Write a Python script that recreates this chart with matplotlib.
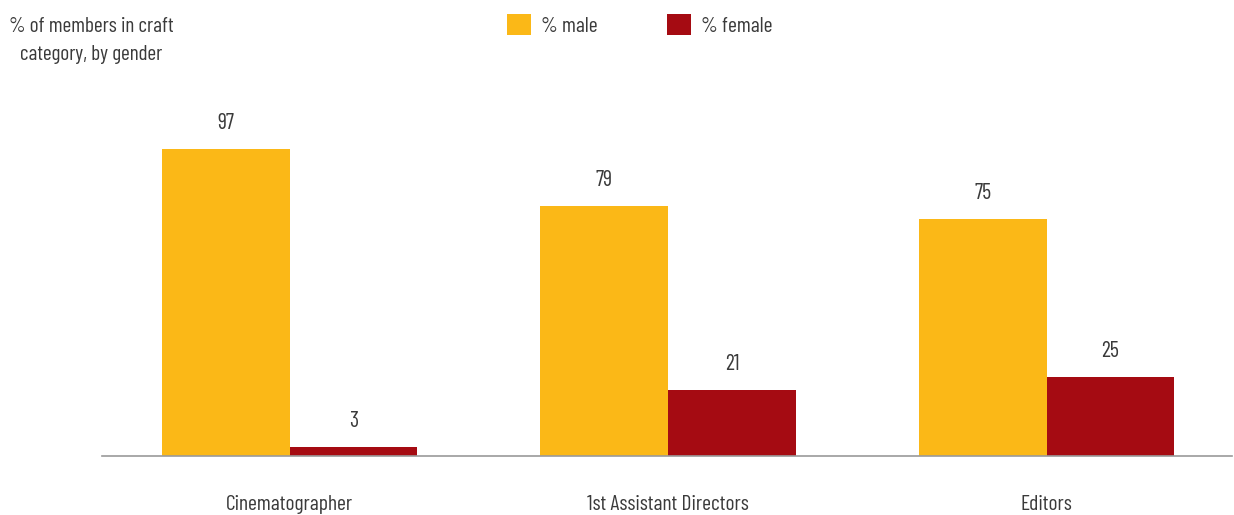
import numpy as np
import matplotlib.pyplot as plt

plt.rcParams['font.family'] = ['Barlow Condensed', 'Roboto Condensed', 'DejaVu Sans']

categories = ['Cinematographer', '1st Assistant Directors', 'Editors']
pct_male = [97, 79, 75]
pct_female = [3, 21, 25]

male_color = '#FBB817'
female_color = '#A50B12'
text_color = '#3a3a3a'

fig = plt.figure(figsize=(12.34, 5.15), dpi=100)
ax = fig.add_axes([102 / 1234, 59 / 515, 1130 / 1234, 316.5 / 515])

x = np.arange(len(categories))
w = 0.3375
bars_m = ax.bar(x - w / 2, pct_male, w, color=male_color, label='% male')
bars_f = ax.bar(x + w / 2, pct_female, w, color=female_color, label='% female')

for bars in (bars_m, bars_f):
    for bar in bars:
        ax.annotate(f'{bar.get_height():.0f}',
                    (bar.get_x() + bar.get_width() / 2, bar.get_height()),
                    xytext=(0, 18), textcoords='offset points',
                    ha='center', va='center', fontsize=16, color=text_color)

ax.set_xlim(-0.496, 2.49)
ax.set_ylim(0, 100)
ax.set_xticks(x)
ax.set_xticklabels(categories, fontsize=15.5, color=text_color)
ax.tick_params(axis='x', length=0, pad=28)
ax.set_yticks([])
for side in ('top', 'right', 'left'):
    ax.spines[side].set_visible(False)
ax.spines['bottom'].set_color('#9a9a9a')
ax.spines['bottom'].set_linewidth(1.2)

fig.text(91 / 1234, 1 - 40 / 515, '% of members in craft\ncategory, by gender',
         ha='center', va='center', fontsize=15.3, color=text_color,
         linespacing=1.6)

fig.legend(loc='center left', bbox_to_anchor=(488 / 1234, 1 - 25 / 515),
           ncol=2, frameon=False, fontsize=15.5, handlelength=1.1,
           handleheight=1.1, handletextpad=0.48, columnspacing=3.2,
           labelcolor=text_color)

fig.savefig('out.png', dpi=100)
